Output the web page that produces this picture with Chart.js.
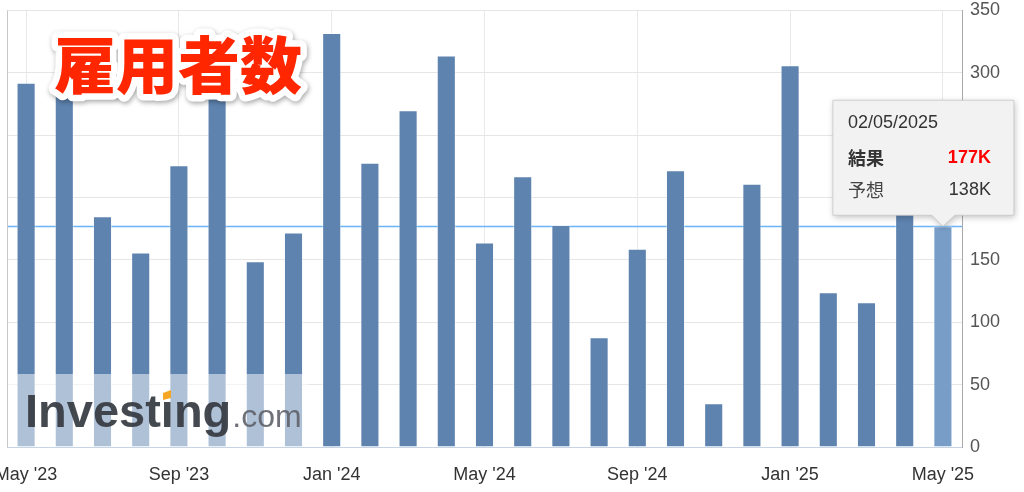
<!DOCTYPE html>
<html><head><meta charset="utf-8">
<script src="https://cdn.jsdelivr.net/npm/chart.js@4.4.1/dist/chart.umd.min.js"></script>
<style>
html,body{margin:0;padding:0;background:#fff;overflow:hidden}
#wrap{position:relative;width:1024px;height:492px}
canvas{display:block}
</style>
</head><body>
<div id="wrap"><canvas id="c" width="1024" height="492"></canvas></div>
<script>
// ---- data ----
const months = ["May '23","Jun '23","Jul '23","Aug '23","Sep '23","Oct '23","Nov '23","Dec '23",
  "Jan '24","Feb '24","Mar '24","Apr '24","May '24","Jun '24","Jul '24","Aug '24","Sep '24","Oct '24","Nov '24","Dec '24",
  "Jan '25","Feb '25","Mar '25","Apr '25","May '25"];
const payrolls = [292, 306, 185, 156, 226, 295, 149, 172,
  332, 228, 270, 314, 164, 217, 178, 88, 159, 222, 35, 211,
  306, 124, 116, 228, 177];
const yTicks = [0, 50, 100, 150, 200, 250, 300, 350];
const titleText = "雇用者数";
const tipDate = "02/05/2025";
const tipActualLabel = "結果";
const tipActual = "177K";
const tipForecastLabel = "予想";
const tipForecast = "138K";
const latestValue = payrolls[payrolls.length - 1];

const FONT = '"Liberation Sans", Arial, "Noto Sans CJK JP", sans-serif';
const CJK = '"Noto Sans CJK JP", "Noto Sans CJK SC", sans-serif';

const barColors = payrolls.map((v, i) => i === payrolls.length - 1 ? '#789ec8' : '#5e83af');

const overlay = {
  id: 'overlay',
  beforeDraw(chart) {
    const c = chart.ctx;
    c.save(); c.fillStyle = '#fff'; c.fillRect(0, 0, chart.width, chart.height); c.restore();
  },
  beforeDatasetsDraw(chart) {
    const c = chart.ctx, a = chart.chartArea, y = chart.scales.y;
    const py = Math.round(y.getPixelForValue(latestValue)) + 0.5;
    c.save();
    c.strokeStyle = '#6ab4f8'; c.lineWidth = 1.6;
    c.beginPath(); c.moveTo(a.left, py); c.lineTo(a.right, py); c.stroke();
    c.strokeStyle = '#c8c8c8'; c.lineWidth = 1;
    c.beginPath(); c.moveTo(a.left + 0.5, a.top); c.lineTo(a.left + 0.5, a.bottom); c.stroke();
    c.restore();
  },
  afterDatasetsDraw(chart) {
    const c = chart.ctx, a = chart.chartArea;
    c.save();
    c.fillStyle = 'rgba(255,255,255,0.5)';
    c.fillRect(a.left + 1, 374, 300, a.bottom - 374);
    c.textBaseline = 'alphabetic'; c.textAlign = 'left';
    c.fillStyle = 'rgba(52,56,64,0.92)';
    c.font = 'bold 47px ' + FONT;
    c.fillText('Investing', 25, 427);
    const w = c.measureText('Investing').width;
    c.fillStyle = 'rgba(95,98,105,0.9)';
    c.font = '32px ' + FONT;
    c.fillText('.com', 25 + w + 1, 427);
    c.fillStyle = '#f5a623';
    c.beginPath();
    c.moveTo(163, 393); c.lineTo(171, 390); c.lineTo(171, 398); c.lineTo(163, 400);
    c.closePath(); c.fill();
    c.restore();
  },
  afterDraw(chart) {
    const c = chart.ctx;
    c.save();
    c.font = '900 62px ' + CJK;
    c.textBaseline = 'middle'; c.textAlign = 'left';
    c.lineJoin = 'round';
    c.shadowColor = 'rgba(0,0,0,0.35)'; c.shadowBlur = 5; c.shadowOffsetX = 1; c.shadowOffsetY = 2;
    c.strokeStyle = '#fff'; c.lineWidth = 13;
    c.strokeText(titleText, 54, 65);
    c.shadowColor = 'transparent';
    c.fillStyle = '#ff2600';
    c.fillText(titleText, 54, 65);
    c.restore();

    const meta = chart.getDatasetMeta(0);
    const el = meta.data[meta.data.length - 1];
    const tx = el.x, ty = el.y;
    const bx = tx - 110, bw = 181, bb = ty - 11, bh = 115, by = bb - bh;
    c.save();
    c.shadowColor = 'rgba(0,0,0,0.25)'; c.shadowBlur = 6; c.shadowOffsetX = 1; c.shadowOffsetY = 2;
    c.fillStyle = '#f2f2f2';
    c.beginPath();
    c.moveTo(bx, by); c.lineTo(bx + bw, by); c.lineTo(bx + bw, bb);
    c.lineTo(tx + 12, bb); c.lineTo(tx, ty); c.lineTo(tx - 11, bb);
    c.lineTo(bx, bb); c.closePath(); c.fill();
    c.shadowColor = 'transparent';
    c.strokeStyle = 'rgba(200,200,200,0.8)'; c.lineWidth = 1; c.stroke();
    c.textBaseline = 'middle';
    const lx = bx + 15, rx = bx + 158;
    c.fillStyle = '#333'; c.textAlign = 'left';
    c.font = '18px ' + FONT;
    c.fillText(tipDate, lx, by + 23);
    c.font = 'bold 18px ' + CJK;
    c.fillText(tipActualLabel, lx, by + 58);
    c.font = '18px ' + CJK;
    c.fillStyle = '#444';
    c.fillText(tipForecastLabel, lx, by + 90);
    c.textAlign = 'right';
    c.fillStyle = '#ff0000'; c.font = 'bold 18px ' + FONT;
    c.fillText(tipActual, rx, by + 58);
    c.fillStyle = '#333'; c.font = '18px ' + FONT;
    c.fillText(tipForecast, rx, by + 90);
    c.restore();
  }
};

new Chart(document.getElementById('c'), {
  type: 'bar',
  data: {
    labels: months,
    datasets: [{
      data: payrolls,
      backgroundColor: barColors,
      borderColor: 'rgba(255,255,255,0.45)',
      borderWidth: 1,
      categoryPercentage: 1.0,
      barPercentage: 0.5
    }]
  },
  options: {
    responsive: false,
    animation: false,
    devicePixelRatio: 1,
    layout: { padding: { left: 7, top: 10.5, right: 0, bottom: 0 } },
    plugins: { legend: { display: false }, tooltip: { enabled: false } },
    scales: {
      x: {
        offset: true,
        grid: {
          offset: false,
          drawTicks: false,
          color: ctx => (ctx.index % 4 === 0 ? '#e9e9e9' : 'rgba(0,0,0,0)'),
          lineWidth: 1
        },
        border: { color: '#c6d4e3', width: 1 },
        ticks: {
          autoSkip: false, maxRotation: 0, padding: 17,
          color: '#333', font: { family: FONT, size: 18 },
          callback: (v, i) => (i % 4 === 0 ? months[i] : '')
        },
        afterFit: s => { s.height = 45; s.paddingLeft = 0; s.paddingRight = 0; }
      },
      y: {
        position: 'right',
        min: 0, max: 350,
        afterBuildTicks: s => { s.ticks = yTicks.map(v => ({ value: v })); },
        grid: { drawTicks: false, color: '#e6e6e6' },
        border: { color: '#aaaaaa', width: 1 },
        ticks: { padding: 8, color: '#555', font: { family: FONT, size: 18 } },
        afterFit: s => { s.width = 62; s.paddingTop = 0; s.paddingBottom = 0; }
      }
    }
  },
  plugins: [overlay]
});
</script>
</body></html>
